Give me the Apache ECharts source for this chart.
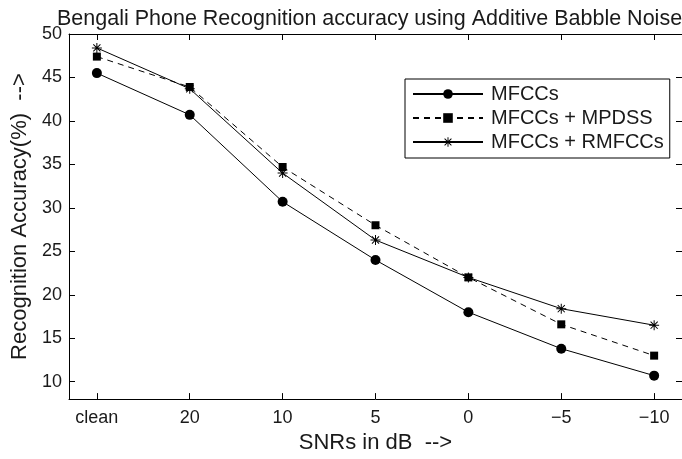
<!DOCTYPE html>
<html>
<head>
<meta charset="utf-8">
<script src="https://cdn.jsdelivr.net/npm/echarts@6/dist/echarts.min.js"></script>
<style>html,body{margin:0;padding:0;background:#fff}#c{width:682px;height:459px}</style>
</head>
<body>
<div id="c"></div>
<script>
const categories = ['clean', '20', '10', '5', '0', '\u22125', '\u221210'];
const mfccs = [45.5, 40.7, 30.7, 24.0, 18.0, 13.8, 10.7];
const mpdss = [47.4, 43.9, 34.7, 28.0, 22.0, 16.6, 13.0];
const rmfccs = [48.4, 43.7, 34.0, 26.3, 22.0, 18.4, 16.5];
const yTicks = [10, 15, 20, 25, 30, 35, 40, 45, 50];
const seriesNames = ['MFCCs', 'MFCCs + MPDSS', 'MFCCs + RMFCCs'];

const FONT = '"Liberation Sans", Arial, Helvetica, sans-serif';
const TXT = '#1a1a1a';
const star = 'path://M0 9L20 9L20 11L0 11Z M9 0L11 0L11 20L9 20Z M2.2 3.6L3.6 2.2L17.8 16.4L16.4 17.8Z M16.4 2.2L17.8 3.6L3.6 17.8L2.2 16.4Z';
const xIdx = categories.map((c, i) => i);
const pairs = arr => arr.map((v, i) => [i, v]);

const chart = echarts.init(document.getElementById('c'), null, {renderer: 'canvas'});
const axisCommonX = {
  type: 'value', min: -0.3, max: 6.3,
  axisLine: {show: true, onZero: false, lineStyle: {color: '#000', width: 1}},
  axisTick: {show: true, inside: true, length: 6, customValues: xIdx, lineStyle: {color: '#000'}},
  splitLine: {show: false}
};
const axisCommonY = {
  type: 'value', min: 8, max: 50,
  axisLine: {show: true, onZero: false, lineStyle: {color: '#000', width: 1}},
  axisTick: {show: true, inside: true, length: 6, customValues: yTicks, lineStyle: {color: '#000'}},
  splitLine: {show: false}
};
chart.setOption({
  animation: false,
  backgroundColor: '#fff',
  textStyle: {fontFamily: FONT},
  title: {
    text: 'Bengali Phone Recognition accuracy using Additive Babble Noise',
    left: 52, top: 3,
    textStyle: {fontFamily: FONT, fontSize: 21.5, fontWeight: 'normal', color: TXT}
  },
  grid: {left: 69, top: 34, width: 616, height: 368, containLabel: false},
  legend: {
    orient: 'vertical', left: 405, top: 79,
    padding: [5, 6, 6, 7],
    borderColor: '#000', borderWidth: 1, borderRadius: 0,
    backgroundColor: '#fff',
    itemWidth: 70, itemHeight: 12, itemGap: 4,
    textStyle: {fontFamily: FONT, fontSize: 20, color: TXT, padding: [0, 0, 0, 3]},
    data: seriesNames
  },
  xAxis: [
    Object.assign({}, axisCommonX, {
      position: 'bottom',
      name: 'SNRs in dB  -->', nameLocation: 'middle', nameGap: 32,
      nameTextStyle: {fontFamily: FONT, fontSize: 22, color: TXT},
      axisLabel: {show: true, customValues: xIdx, margin: 10, fontFamily: FONT, fontSize: 18, color: TXT,
        formatter: v => categories[Math.round(v)]}
    }),
    Object.assign({}, axisCommonX, {position: 'top', axisLabel: {show: false}})
  ],
  yAxis: [
    Object.assign({}, axisCommonY, {
      position: 'left',
      name: 'Recognition Accuracy(%)  -->', nameLocation: 'middle', nameGap: 38,
      nameTextStyle: {fontFamily: FONT, fontSize: 22, color: TXT},
      axisLabel: {show: true, customValues: yTicks, margin: 7, fontFamily: FONT, fontSize: 18, color: TXT}
    }),
    Object.assign({}, axisCommonY, {position: 'right', axisLabel: {show: false},
      axisLine: {show: true, onZero: false, lineStyle: {color: 'rgba(0,0,0,0)', width: 1}}})
  ],
  series: [
    {
      name: seriesNames[0], type: 'line', data: pairs(mfccs),
      symbol: 'circle', symbolSize: 10,
      lineStyle: {color: '#000', width: 1, type: 'solid'},
      itemStyle: {color: '#000', borderWidth: 0}
    },
    {
      name: seriesNames[1], type: 'line', data: pairs(mpdss),
      symbol: 'rect', symbolSize: 8,
      lineStyle: {color: '#000', width: 1, type: [6, 5]},
      itemStyle: {color: '#000', borderWidth: 0}
    },
    {
      name: seriesNames[2], type: 'line', data: pairs(rmfccs),
      symbol: star, symbolSize: 10,
      lineStyle: {color: '#000', width: 1, type: 'solid'},
      itemStyle: {color: '#000', borderWidth: 0}
    }
  ]
});
</script>
</body>
</html>
